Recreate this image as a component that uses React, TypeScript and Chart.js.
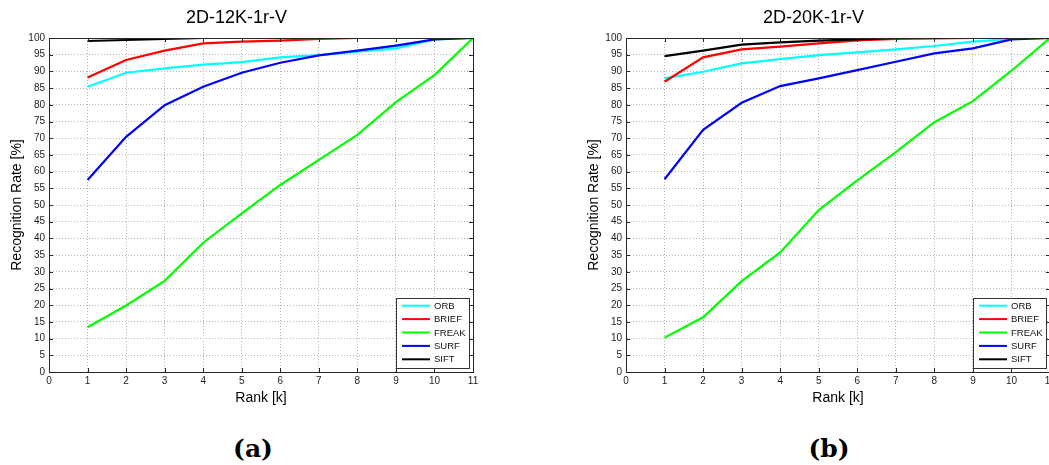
import React, { useEffect, useRef } from "react";
import { Chart, registerables } from "chart.js";

Chart.register(...registerables);

// ---- data ----
const ranks = [1, 2, 3, 4, 5, 6, 7, 8, 9, 10, 11];
const seriesNames = ["ORB", "BRIEF", "FREAK", "SURF", "SIFT"];
const seriesColors = ["#00ffff", "#ff0000", "#00ff00", "#0000ff", "#000000"];

const titleA = "2D-12K-1r-V";
const titleB = "2D-20K-1r-V";
const captionA = "(a)";
const captionB = "(b)";
const xTitle = "Rank [k]";
const yTitle = "Recognition Rate [%]";

// chart (a)
const orbA = [85.4, 89.6, 90.9, 92.0, 92.8, 94.2, 94.9, 95.9, 96.9, 99.6, 100];
const briefA = [88.2, 93.4, 96.2, 98.4, 98.9, 99.2, 99.7, 100, null, null, null];
const freakA = [13.4, 19.9, 27.3, 38.7, 47.5, 56.0, 63.5, 71.0, 80.8, 88.9, 100];
const surfA = [57.5, 70.4, 79.9, 85.4, 89.6, 92.6, 94.8, 96.2, 97.7, 99.6, 100];
const siftA = [99.1, 99.4, 99.7, 100, null, null, null, null, null, null, null];

// chart (b)
const orbB = [87.9, 89.9, 92.4, 93.7, 94.9, 95.7, 96.6, 97.6, 98.9, 99.7, 100];
const briefB = [86.9, 94.2, 96.6, 97.4, 98.4, 99.3, 99.7, 99.9, 100, 100, null];
const freakB = [10.3, 16.4, 27.2, 35.8, 48.5, 57.4, 65.8, 74.8, 81.1, 90.2, 100];
const surfB = [57.7, 72.5, 80.6, 85.6, 87.9, 90.4, 92.9, 95.4, 96.9, 99.6, 100];
const siftB = [94.6, 96.2, 98.0, 98.7, 99.2, 99.6, 100, null, null, null, null];

const FONT = "'Liberation Sans', Arial, Helvetica, sans-serif";

const framePlugin = {
  id: "frameTicks",
  afterDatasetsDraw(chart: any) {
    const { ctx, chartArea } = chart;
    const xs = chart.scales.x;
    const ys = chart.scales.y;
    ctx.save();
    ctx.strokeStyle = "#262626";
    ctx.lineWidth = 1;
    ctx.setLineDash([]);
    ctx.strokeRect(
      Math.round(chartArea.left) + 0.5,
      Math.round(chartArea.top) + 0.5,
      Math.round(chartArea.right - chartArea.left),
      Math.round(chartArea.bottom - chartArea.top)
    );
    const tl = 4;
    ctx.beginPath();
    xs.ticks.forEach((t: any) => {
      const px = Math.round(xs.getPixelForValue(t.value)) + 0.5;
      ctx.moveTo(px, chartArea.bottom);
      ctx.lineTo(px, chartArea.bottom - tl);
      ctx.moveTo(px, chartArea.top);
      ctx.lineTo(px, chartArea.top + tl);
    });
    ys.ticks.forEach((t: any) => {
      const py = Math.round(ys.getPixelForValue(t.value)) + 0.5;
      ctx.moveTo(chartArea.left, py);
      ctx.lineTo(chartArea.left + tl, py);
      ctx.moveTo(chartArea.right, py);
      ctx.lineTo(chartArea.right - tl, py);
    });
    ctx.stroke();
    ctx.restore();
  },
};

const boxLegendPlugin = {
  id: "boxLegend",
  afterDraw(chart: any) {
    const { ctx, chartArea } = chart;
    const w = 73;
    const h = 70;
    const x = Math.round(chartArea.right - 4 - w);
    const y = Math.round(chartArea.bottom - 4 - h);
    ctx.save();
    ctx.fillStyle = "#ffffff";
    ctx.fillRect(x, y, w, h);
    ctx.strokeStyle = "#333333";
    ctx.lineWidth = 1;
    ctx.strokeRect(x + 0.5, y + 0.5, w, h);
    ctx.font = `9.5px ${FONT}`;
    ctx.textBaseline = "middle";
    ctx.textAlign = "left";
    const items = [...chart.data.datasets].sort((a: any, b: any) => a.legendIndex - b.legendIndex);
    items.forEach((ds: any, i: number) => {
      const ly = y + 7.7 + i * 13.4;
      ctx.strokeStyle = ds.borderColor;
      ctx.lineWidth = 2;
      ctx.beginPath();
      ctx.moveTo(x + 6, ly);
      ctx.lineTo(x + 34, ly);
      ctx.stroke();
      ctx.fillStyle = "#111111";
      ctx.fillText(ds.label, x + 38, ly + 0.5);
    });
    ctx.restore();
  },
};

function Panel({ title, series }: { title: string; series: (number | null)[][] }) {
  const ref = useRef<HTMLCanvasElement | null>(null);
  useEffect(() => {
    if (!ref.current) return;
    const datasets = series.map((vals, i) => ({
      label: seriesNames[i],
      data: vals,
      borderColor: seriesColors[i],
      backgroundColor: seriesColors[i],
      borderWidth: 2.2,
      pointRadius: 0,
      tension: 0,
      fill: false,
      spanGaps: false,
      order: seriesNames.length - i,
      legendIndex: i,
    }));
    const chart = new Chart(ref.current, {
      type: "line",
      data: { labels: ranks, datasets: datasets as any },
      plugins: [framePlugin, boxLegendPlugin],
      options: {
        responsive: false,
        animation: false,
        events: [],
        layout: { padding: { left: 0, right: 27, top: 0, bottom: 0 } },
        plugins: {
          legend: { display: false },
          tooltip: { enabled: false },
          title: {
            display: true,
            text: title,
            color: "#000000",
            font: { family: FONT, size: 18, weight: "normal" as any, lineHeight: 1.2 },
            padding: { top: 6.8, bottom: 9.6 },
          },
        },
        scales: {
          x: {
            type: "linear",
            min: 0,
            max: 11,
            afterFit: (s: any) => {
              s.height = 38;
            },
            ticks: {
              stepSize: 1,
              autoSkip: false,
              maxRotation: 0,
              padding: 3.5,
              color: "#222222",
              font: { family: FONT, size: 10 },
            },
            grid: { color: "#b4b4b4", lineWidth: 1, drawTicks: false },
            border: { display: true, color: "#262626", dash: [1, 2] },
            title: {
              display: true,
              text: xTitle,
              color: "#000000",
              font: { family: FONT, size: 14, lineHeight: 1.2 },
              padding: { top: 0, bottom: 3.6 },
            },
          },
          y: {
            type: "linear",
            min: 0,
            max: 100,
            afterFit: (s: any) => {
              s.width = 49;
            },
            ticks: {
              stepSize: 5,
              autoSkip: false,
              padding: 4,
              color: "#222222",
              font: { family: FONT, size: 10 },
            },
            grid: { color: "#b4b4b4", lineWidth: 1, drawTicks: false },
            border: { display: true, color: "#262626", dash: [1, 2] },
            title: {
              display: true,
              text: yTitle,
              color: "#000000",
              font: { family: FONT, size: 14, lineHeight: 1.2 },
              padding: { top: 8.6, bottom: 0 },
            },
          },
        },
      } as any,
    });
    return () => chart.destroy();
  }, [title, series]);
  return <canvas ref={ref} width={500} height={410} style={{ display: "block" }} />;
}

const seriesA = [orbA, briefA, freakA, surfA, siftA];
const seriesB = [orbB, briefB, freakB, surfB, siftB];

const captionStyle: React.CSSProperties = {
  position: "absolute",
  top: 430,
  width: 100,
  textAlign: "center",
  fontFamily: "'DejaVu Serif', serif",
  fontWeight: "bold",
  fontSize: 25,
  lineHeight: "38px",
  color: "#000",
};

export default function App() {
  useEffect(() => {
    document.body.style.margin = "0";
  }, []);
  return (
    <div
      style={{
        position: "fixed",
        left: 0,
        top: 0,
        width: 1049,
        height: 465,
        overflow: "hidden",
        background: "#ffffff",
      }}
    >
      <div style={{ position: "absolute", left: 0, top: 0 }}>
        <Panel title={titleA} series={seriesA} />
      </div>
      <div style={{ position: "absolute", left: 577, top: 0 }}>
        <Panel title={titleB} series={seriesB} />
      </div>
      <div style={{ ...captionStyle, left: 253 - 50 }}>{captionA}</div>
      <div style={{ ...captionStyle, left: 829 - 50 }}>{captionB}</div>
    </div>
  );
}
